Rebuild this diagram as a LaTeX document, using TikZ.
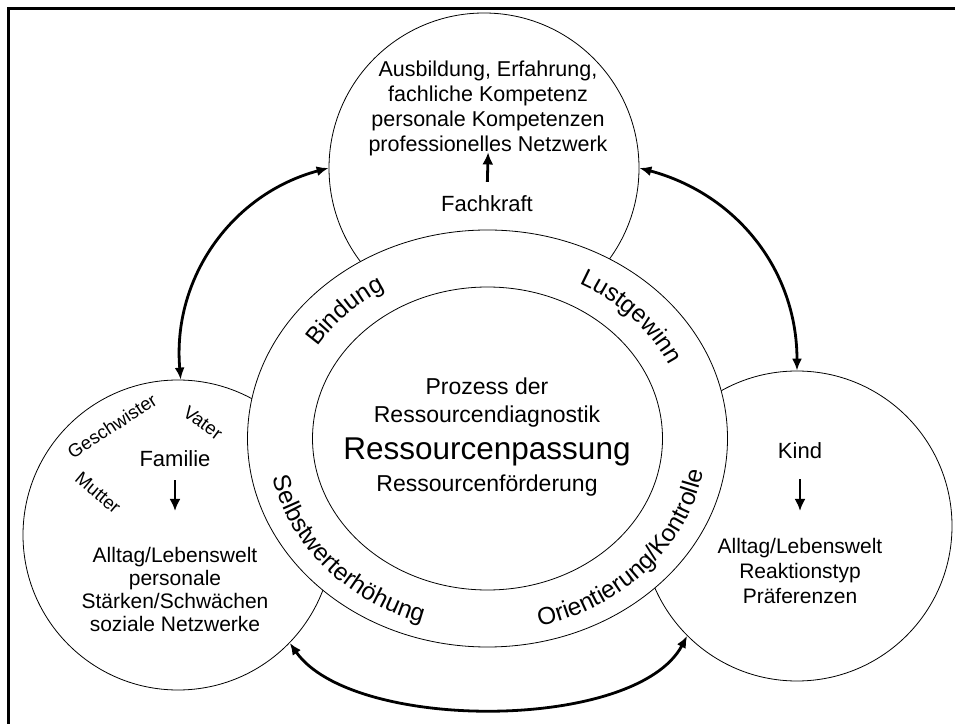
\documentclass[tikz,border=0pt]{standalone}
\usepackage{fontspec}
\setmainfont{Liberation Sans}
\usetikzlibrary{arrows.meta,shapes.geometric,decorations.text}

\tikzset{
  bubble/.style={circle, draw, line width=0.8pt, minimum size=310pt, inner sep=0pt},
  oval/.style={ellipse, draw, line width=0.8pt, inner sep=0pt},
  link/.style={{Latex[length=12pt,width=10pt]}-{Latex[length=12pt,width=10pt]}, line width=2.8pt},
  pointer/.style={-{Latex[length=12pt,width=11pt]}, line width=2.8pt},
  label/.style={inner sep=0pt, align=center},
  ringtext/.style={decorate, decoration={text along path, text align=center,
    text={|\fontsize{24.5}{24.5}\selectfont|#1}}},
}

\begin{document}
\begin{tikzpicture}[x=1pt,y=1pt]
	\useasboundingbox (0,0) rectangle (955,723);
	\draw[line width=2.5pt] (8.5,-5) -- (8.5,714.5) -- (965,714.5);

	\node[bubble] (fach) at (484,555) {};
	\node[bubble] (fam) at (178,188) {};
	\node[bubble] (kind) at (797,197) {};

	\draw[link] (fam.89) to[out=95,in=195] (fach.west);
	\draw[link] (fach.east) to[out=-15,in=90] (kind.north);
	\draw[link] (fam.-44) to[out=-55,in=-118,looseness=0.7] (kind.-135);

	\node[oval, fill=white, minimum width=480pt, minimum height=417pt] (ring) at (487.5,284.5) {};
	\node[oval, minimum width=350pt, minimum height=303pt] (core) at (487.5,284.5) {};

	\begin{scope}[shift={(ring.center)}]
	\path[ringtext={Bindung}] (176:200pt and 174pt) arc[start angle=176, end angle=96, x radius=200pt, y radius=174pt];
	\path[ringtext={Lustgewinn}] (83:200pt and 174pt) arc[start angle=83, end angle=2, x radius=200pt, y radius=174pt];
	\path[ringtext={Selbstwerterhöhung}] (171:219pt and 193pt) arc[start angle=171, end angle=271, x radius=219pt, y radius=193pt];
	\path[ringtext={Orientierung/Kontrolle}] (268:219pt and 193pt) arc[start angle=268, end angle=368, x radius=219pt, y radius=193pt];
	\end{scope}

	% Fachkraft
	\node[label, anchor=north, font=\fontsize{21.5}{25}\selectfont] (fachtext) at (488,662)
		{Ausbildung, Erfahrung,\\fachliche Kompetenz\\personale Kompetenzen\\professionelles Netzwerk};
	\node[label, anchor=base, font=\fontsize{22}{22}\selectfont] (fachname) at (487,511) {Fachkraft};
	\draw[pointer, shorten <=14pt, shorten >=-4pt] (fachname.north) -- (fachtext.south);

	% Familie
	\node[label, anchor=base, font=\fontsize{22}{22}\selectfont] (famname) at (175,256) {Familie};
	\node[label, anchor=north, font=\fontsize{21}{23}\selectfont] (famtext) at (175,176)
		{Alltag/Lebenswelt\\personale\\Stärken/Schwächen\\soziale Netzwerke};
	\draw[pointer, shorten <=13pt, shorten >=36pt] (famname.south) -- (famtext.north);
	\node[label, rotate=33, font=\fontsize{18.5}{18.5}\selectfont] (geschw) at (112,297) {Geschwister};
	\node[label, rotate=-36, font=\fontsize{18.5}{18.5}\selectfont] (vater) at (203,300) {Vater};
	\node[label, rotate=-40, font=\fontsize{18.5}{18.5}\selectfont] (mutter) at (98,230) {Mutter};

	% Kind
	\node[label, anchor=base, font=\fontsize{22}{22}\selectfont] (kindname) at (800,264) {Kind};
	\node[label, anchor=north, font=\fontsize{21}{25}\selectfont] (kindtext) at (800,185)
		{Alltag/Lebenswelt\\Reaktionstyp\\Präferenzen};
	\draw[pointer, shorten <=20pt, shorten >=27pt] (kindname.south) -- (kindtext.north);

	% Mitte
	\node[label, anchor=base, font=\fontsize{23}{23}\selectfont] (prozess) at (487,328) {Prozess der};
	\node[label, anchor=base, font=\fontsize{23}{23}\selectfont] (diagnose) at (487,300) {Ressourcendiagnostik};
	\node[label, anchor=base, font=\fontsize{31.5}{31.5}\selectfont] (passung) at (487,263) {Ressourcenpassung};
	\node[label, anchor=base, font=\fontsize{23}{23}\selectfont] (foerderung) at (487,231) {Ressourcenförderung};
\end{tikzpicture}
\end{document}
